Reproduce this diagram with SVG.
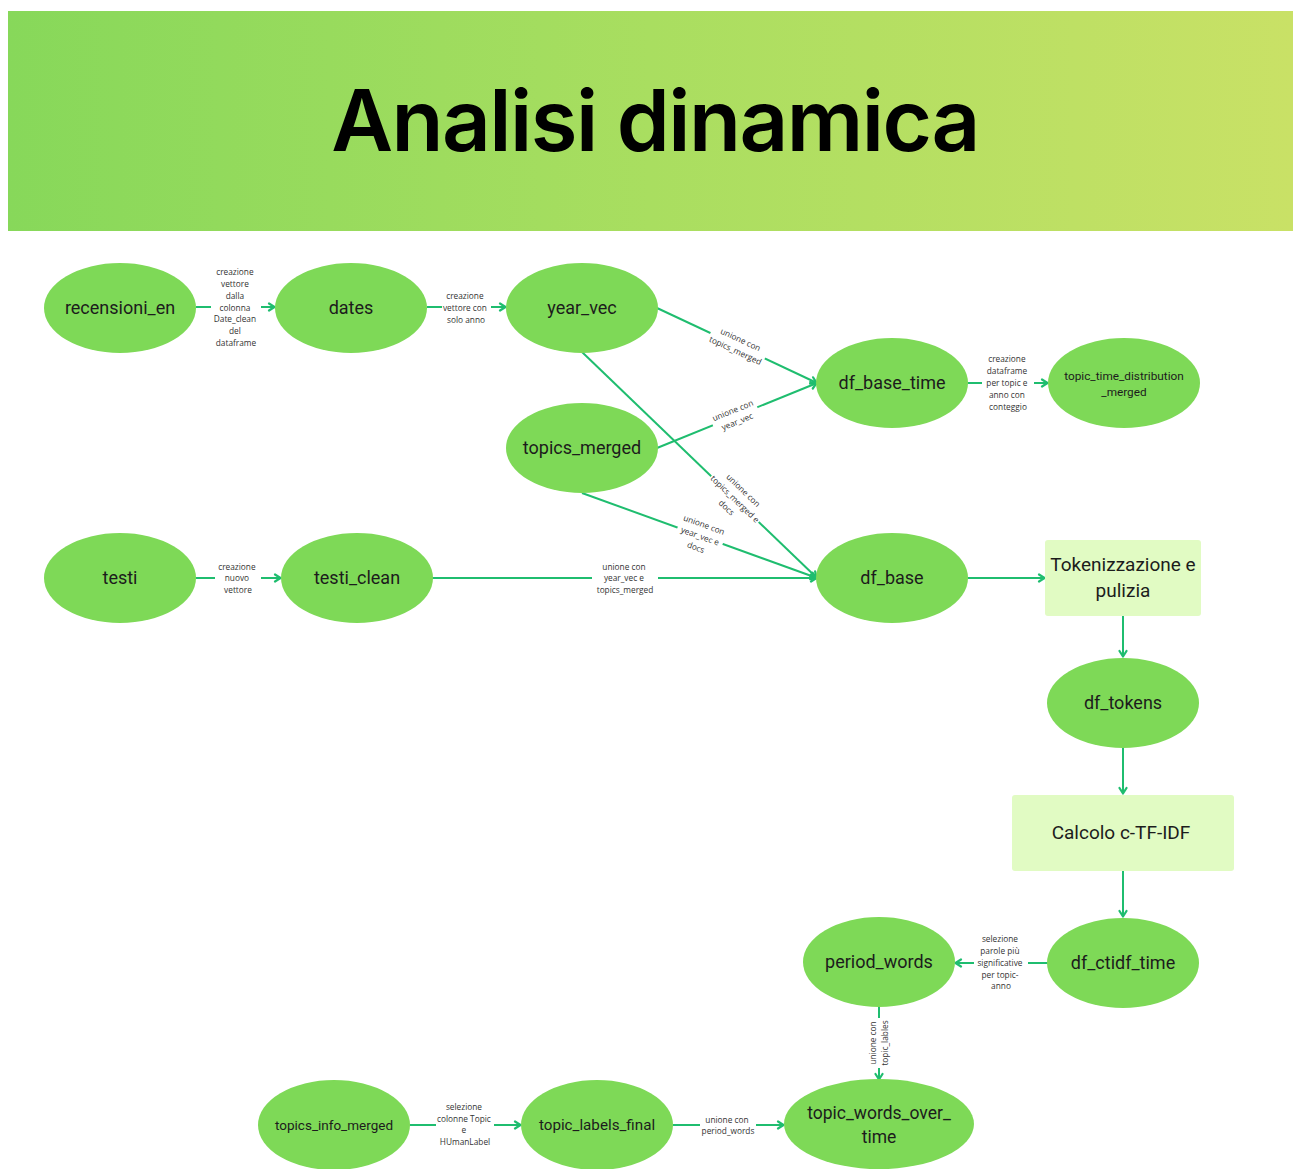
<svg xmlns="http://www.w3.org/2000/svg" width="1293" height="1169" viewBox="0 0 1293 1169">
  <defs>
    <linearGradient id="banner" x1="0" y1="0" x2="1" y2="0">
      <stop offset="0" stop-color="#87d85a"/>
      <stop offset="0.5" stop-color="#a9de60"/>
      <stop offset="1" stop-color="#c9e166"/>
    </linearGradient>
    <marker id="arrow" viewBox="0 0 10 10" refX="9" refY="5" markerWidth="10" markerHeight="10" markerUnits="userSpaceOnUse" orient="auto">
      <path d="M3,1.5 L8.5,5 L3,8.5" fill="none" stroke="#1fbd6f" stroke-width="2.2" stroke-linecap="round" stroke-linejoin="round"/>
    </marker>
    <style>
      .node ellipse { fill: #7ed957; }
      .box rect { fill: #e1fbc3; }
      .nlabel { font-family: Roboto, "Liberation Sans", sans-serif; font-size: 18px; fill: #1c1c1c; text-anchor: middle; }
      .edge { fill: none; stroke: #1fbd6f; stroke-width: 2; }
      .elabel { font-family: "Open Sans", "Liberation Sans", sans-serif; font-size: 8.3px; fill: #333; text-anchor: middle; }
      .lbg { fill: #ffffff; }
      .title { font-family: Inter, "Liberation Sans", sans-serif; font-weight: 600; font-size: 85px; fill: #000; text-anchor: middle; }
    </style>
  </defs>

  <!-- header banner -->
  <g id="header">
    <rect x="8" y="11" width="1285" height="220" fill="url(#banner)"/>
    <text class="title" x="655" y="151" letter-spacing="-1.5">Analisi dinamica</text>
  </g>

  <!-- connectors -->
  <g id="connectors">
    <line class="edge" x1="196" y1="307" x2="275" y2="307" marker-end="url(#arrow)"/>
    <line class="edge" x1="427" y1="307" x2="506" y2="307" marker-end="url(#arrow)"/>
    <line class="edge" x1="657" y1="308" x2="817" y2="383" marker-end="url(#arrow)"/>
    <line class="edge" x1="657" y1="448" x2="817" y2="383" marker-end="url(#arrow)"/>
    <line class="edge" x1="582" y1="352" x2="817" y2="578" marker-end="url(#arrow)"/>
    <line class="edge" x1="582" y1="493" x2="817" y2="578" marker-end="url(#arrow)"/>
    <line class="edge" x1="432" y1="578" x2="817" y2="578" marker-end="url(#arrow)"/>
    <line class="edge" x1="196" y1="578" x2="281" y2="578" marker-end="url(#arrow)"/>
    <line class="edge" x1="968" y1="383" x2="1048" y2="383" marker-end="url(#arrow)"/>
    <line class="edge" x1="968" y1="578" x2="1045" y2="578" marker-end="url(#arrow)"/>
    <line class="edge" x1="1123" y1="616" x2="1123" y2="657" marker-end="url(#arrow)"/>
    <line class="edge" x1="1123" y1="748" x2="1123" y2="794" marker-end="url(#arrow)"/>
    <line class="edge" x1="1123" y1="871" x2="1123" y2="917" marker-end="url(#arrow)"/>
    <line class="edge" x1="1048" y1="963" x2="955" y2="963" marker-end="url(#arrow)"/>
    <line class="edge" x1="879" y1="1007" x2="879" y2="1080" marker-end="url(#arrow)"/>
    <line class="edge" x1="410" y1="1125" x2="521" y2="1125" marker-end="url(#arrow)"/>
    <line class="edge" x1="673" y1="1125" x2="784" y2="1125" marker-end="url(#arrow)"/>

    <!-- edge labels -->
    <rect class="lbg" x="211" y="264" width="50" height="84"/>
    <text class="elabel" x="236">
      <tspan x="236" y="275">creazione</tspan>
      <tspan x="236" y="287">vettore</tspan>
      <tspan x="236" y="299">dalla</tspan>
      <tspan x="236" y="311">colonna</tspan>
      <tspan x="236" y="322">Date_clean</tspan>
      <tspan x="236" y="334">del</tspan>
      <tspan x="236" y="346">dataframe</tspan>
    </text>

    <rect class="lbg" x="442" y="290" width="49" height="34"/>
    <text class="elabel">
      <tspan x="466" y="299">creazione</tspan>
      <tspan x="466" y="311">vettore con</tspan>
      <tspan x="466" y="323">solo anno</tspan>
    </text>

    <g transform="translate(738,345) rotate(25)">
      <rect class="lbg" x="-30" y="-12" width="60" height="23"/>
      <text class="elabel"><tspan x="0" y="-3">unione con</tspan><tspan x="0" y="9">topics_merged</tspan></text>
    </g>

    <g transform="translate(735,416) rotate(-22)">
      <rect class="lbg" x="-24" y="-12" width="48" height="23"/>
      <text class="elabel"><tspan x="0" y="-3">unione con</tspan><tspan x="0" y="9">year_vec</tspan></text>
    </g>

    <g transform="translate(735,499) rotate(44)">
      <rect class="lbg" x="-33" y="-18" width="66" height="35"/>
      <text class="elabel"><tspan x="0" y="-9">unione con</tspan><tspan x="0" y="3">topics_merged e</tspan><tspan x="0" y="15">docs</tspan></text>
    </g>

    <g transform="translate(700,536) rotate(20)">
      <rect class="lbg" x="-24" y="-18" width="48" height="35"/>
      <text class="elabel"><tspan x="0" y="-9">unione con</tspan><tspan x="0" y="3">year_vec e</tspan><tspan x="0" y="15">docs</tspan></text>
    </g>

    <rect class="lbg" x="592" y="560" width="66" height="36"/>
    <text class="elabel">
      <tspan x="625" y="570">unione con</tspan>
      <tspan x="625" y="581">year_vec e</tspan>
      <tspan x="625" y="593">topics_merged</tspan>
    </text>

    <rect class="lbg" x="215" y="560" width="46" height="36"/>
    <text class="elabel">
      <tspan x="238" y="570">creazione</tspan>
      <tspan x="238" y="581">nuovo</tspan>
      <tspan x="238" y="593">vettore</tspan>
    </text>

    <rect class="lbg" x="982" y="352" width="52" height="60"/>
    <text class="elabel">
      <tspan x="1008" y="362">creazione</tspan>
      <tspan x="1008" y="374">dataframe</tspan>
      <tspan x="1008" y="386">per topic e</tspan>
      <tspan x="1008" y="398">anno con</tspan>
      <tspan x="1008" y="410">conteggio</tspan>
    </text>

    <rect class="lbg" x="974" y="933" width="54" height="58"/>
    <text class="elabel">
      <tspan x="1001" y="942">selezione</tspan>
      <tspan x="1001" y="954">parole più</tspan>
      <tspan x="1001" y="966">significative</tspan>
      <tspan x="1001" y="978">per topic-</tspan>
      <tspan x="1001" y="989">anno</tspan>
    </text>

    <g transform="translate(879,1043) rotate(-90)">
      <rect class="lbg" x="-25" y="-12" width="50" height="23"/>
      <text class="elabel"><tspan x="0" y="-3">unione con</tspan><tspan x="0" y="9">topic_lables</tspan></text>
    </g>

    <rect class="lbg" x="436" y="1101" width="58" height="46"/>
    <text class="elabel">
      <tspan x="465" y="1110">selezione</tspan>
      <tspan x="465" y="1122">colonne Topic</tspan>
      <tspan x="465" y="1133">e</tspan>
      <tspan x="465" y="1145">HUmanLabel</tspan>
    </text>

    <rect class="lbg" x="700" y="1113" width="56" height="23"/>
    <text class="elabel">
      <tspan x="728" y="1123">unione con</tspan>
      <tspan x="728" y="1134">period_words</tspan>
    </text>
  </g>

  <!-- nodes -->
  <g id="recensioni_en" class="node"><ellipse cx="120" cy="308" rx="76" ry="45"/><text class="nlabel" x="120" y="314">recensioni_en</text></g>
  <g id="dates" class="node"><ellipse cx="351" cy="308" rx="76" ry="45"/><text class="nlabel" x="351" y="314">dates</text></g>
  <g id="year_vec" class="node"><ellipse cx="582" cy="308" rx="76" ry="45"/><text class="nlabel" x="582" y="314">year_vec</text></g>
  <g id="topics_merged" class="node"><ellipse cx="582" cy="448" rx="76" ry="45"/><text class="nlabel" x="582" y="454">topics_merged</text></g>
  <g id="df_base_time" class="node"><ellipse cx="892" cy="383" rx="76" ry="45"/><text class="nlabel" x="892" y="389">df_base_time</text></g>
  <g id="topic_time_distribution_merged" class="node"><ellipse cx="1124" cy="383" rx="76" ry="45"/><text class="nlabel" x="1124" y="380" style="font-size:11.8px">topic_time_distribution</text><text class="nlabel" x="1124" y="396" style="font-size:11.8px">_merged</text></g>
  <g id="testi" class="node"><ellipse cx="120" cy="578" rx="76" ry="45"/><text class="nlabel" x="120" y="584">testi</text></g>
  <g id="testi_clean" class="node"><ellipse cx="357" cy="578" rx="76" ry="45"/><text class="nlabel" x="357" y="584">testi_clean</text></g>
  <g id="df_base" class="node"><ellipse cx="892" cy="578" rx="76" ry="45"/><text class="nlabel" x="892" y="584">df_base</text></g>
  <g id="tokenizzazione" class="box"><rect x="1045" y="540" width="156" height="76" rx="3"/><text class="nlabel" x="1123" y="571" style="font-size:19px">Tokenizzazione e</text><text class="nlabel" x="1123" y="597" style="font-size:19px">pulizia</text></g>
  <g id="df_tokens" class="node"><ellipse cx="1123" cy="703" rx="76" ry="45"/><text class="nlabel" x="1123" y="709">df_tokens</text></g>
  <g id="calcolo_ctfidf" class="box"><rect x="1012" y="795" width="222" height="76" rx="3"/><text class="nlabel" x="1121" y="839" style="font-size:19px">Calcolo c-TF-IDF</text></g>
  <g id="df_ctidf_time" class="node"><ellipse cx="1123" cy="963" rx="76" ry="45"/><text class="nlabel" x="1123" y="969">df_ctidf_time</text></g>
  <g id="period_words" class="node"><ellipse cx="879" cy="962" rx="76" ry="45"/><text class="nlabel" x="879" y="968">period_words</text></g>
  <g id="topics_info_merged" class="node"><ellipse cx="334" cy="1125" rx="76" ry="45"/><text class="nlabel" x="334" y="1130" style="font-size:13.5px">topics_info_merged</text></g>
  <g id="topic_labels_final" class="node"><ellipse cx="597" cy="1125" rx="76" ry="45"/><text class="nlabel" x="597" y="1130" style="font-size:15.2px">topic_labels_final</text></g>
  <g id="topic_words_over_time" class="node"><ellipse cx="879" cy="1124" rx="95" ry="45"/><text class="nlabel" x="879" y="1119" style="font-size:17.5px">topic_words_over_</text><text class="nlabel" x="879" y="1143" style="font-size:17.5px">time</text></g>
</svg>
